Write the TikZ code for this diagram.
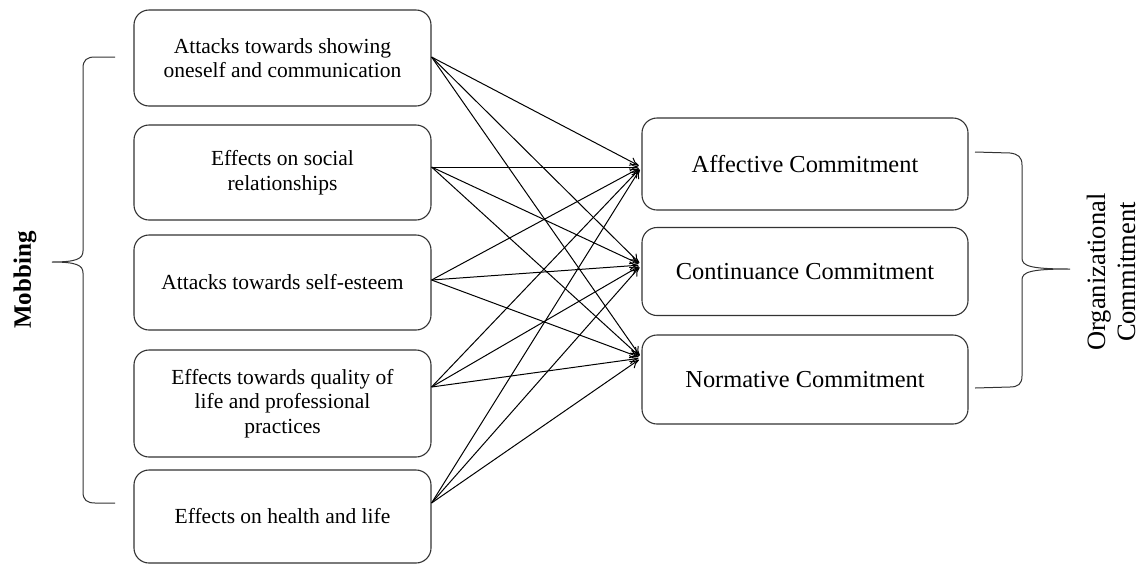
\documentclass[tikz,border=0pt]{standalone}
\usepackage{fontspec}
\setmainfont{Liberation Serif}
\usetikzlibrary{arrows.meta}
\tikzset{
  dimbox/.style={draw=black!80, line width=1.1pt, rectangle, rounded corners=15pt,
    align=center, minimum width=297pt, inner sep=2pt,
    font=\fontsize{21.5}{24.5}\selectfont},
  combox/.style={draw=black!80, line width=1.1pt, rectangle, rounded corners=15pt,
    minimum width=326pt, inner sep=2pt, font=\fontsize{24.4}{28}\selectfont},
  link/.style={->, line width=1pt, shorten >=3pt},
  bracket/.style={line width=1pt, draw=black!80}
}

\begin{document}
\begin{tikzpicture}[x=1pt, y=-1pt, >={To[length=9pt,width=9pt]}]
  \useasboundingbox (0,0) rectangle (1141,563);

  % mobbing side
  \node at (282.5,58) [dimbox, minimum height=96pt] (att) {Attacks towards showing\\oneself and communication};
  \node at (282.5,172.5) [dimbox, minimum height=95pt] (soc) {Effects on social\\relationships};
  \node at (282.5,282.5) [dimbox, minimum height=95pt] (est) {Attacks towards self-esteem};
  \node at (282.5,403.5) [dimbox, minimum height=107pt] (qual) {Effects towards quality of\\life and professional\\practices};
  \node at (282.5,516.5) [dimbox, minimum height=93pt] (health) {Effects on health and life};

  % commitment side
  \node at (805,164) [combox, minimum height=92pt] (aff) {Affective Commitment};
  \node at (805,271.5) [combox, minimum height=88pt] (con) {Continuance Commitment};
  \node at (805,379.5) [combox, minimum height=89pt] (nor) {Normative Commitment};

  \foreach \src/\up in {att/1, soc/5.5, est/2.5, qual/16.5, health/13.5} {
    \foreach \dst/\tup in {aff/-3, con/6.5, nor/21.5} {
      \draw[link] ([yshift=\up pt]\src.east) -- ([yshift=\tup pt]\dst.west);
    }
  }

  % braces
  \draw[bracket] (115,57) -- (95,57) .. controls (87,57) and (83,60) .. (83,68)
    -- (83,251) .. controls (83,259) and (76,262) .. (52,262)
    .. controls (76,262) and (83,265) .. (83,273)
    -- (83,492) .. controls (83,500) and (87,503) .. (95,503) -- (115,503);
  \draw[bracket] (975,152) -- (1010,153) .. controls (1018,154) and (1022,157) .. (1022,165)
    -- (1022,258) .. controls (1022,266) and (1030,269) .. (1070,269)
    .. controls (1030,269) and (1022,272) .. (1022,280)
    -- (1022,376) .. controls (1022,384) and (1018,387) .. (1010,387) -- (975,388);

  \node at (25,280) [rotate=90, font=\fontsize{25}{30}\selectfont\bfseries] (mobbing) {Mobbing};
  \node at (1111,272) [rotate=90, align=center, font=\fontsize{26.5}{30}\selectfont] (orgcom) {Organizational\\Commitment};
\end{tikzpicture}
\end{document}
